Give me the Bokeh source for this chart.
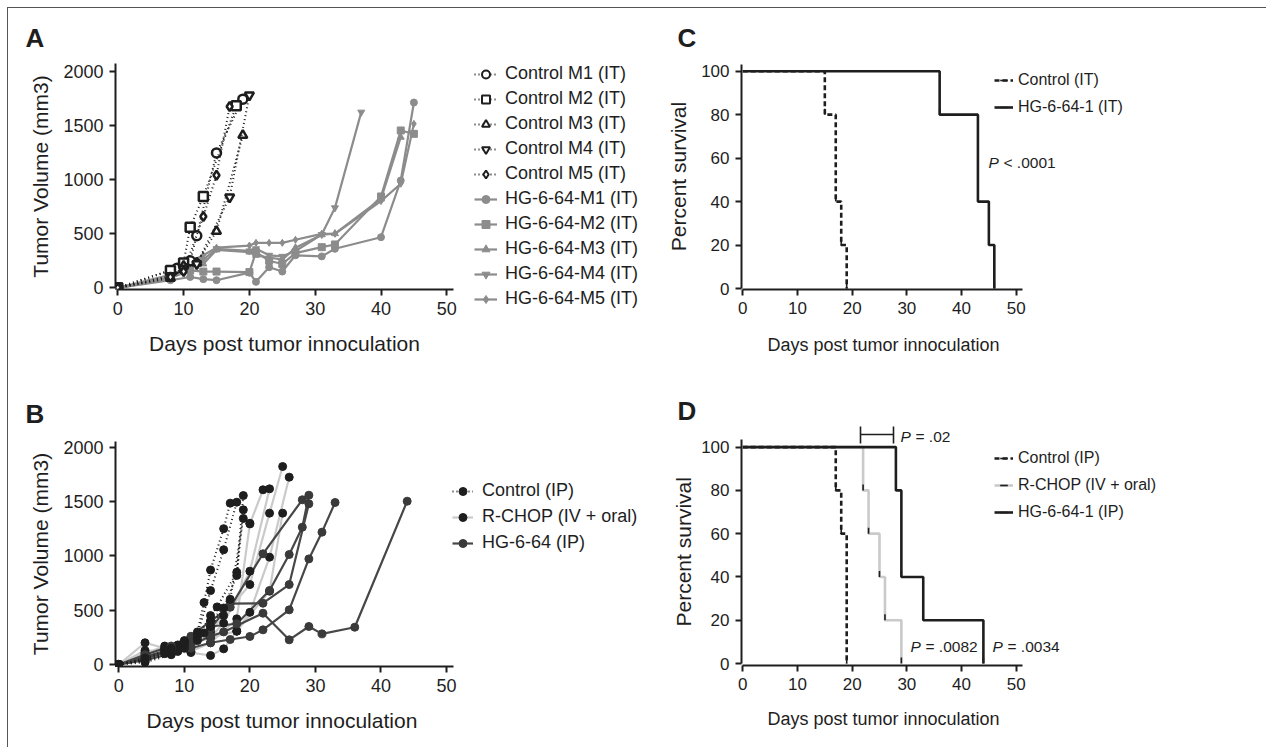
import numpy as np
from bokeh.plotting import figure
from bokeh.models import Legend, LegendItem, Label, Range1d, FixedTicker, Arrow, Title, Spacer
from bokeh.layouts import column, row
from bokeh.embed import file_html
from bokeh.resources import INLINE

# ------------------------------------------------------------------ data
DAY_TICKS = [0, 10, 20, 30, 40, 50]
VOL_TICKS = [0, 500, 1000, 1500, 2000]
PCT_TICKS = [0, 20, 40, 60, 80, 100]
X_LABEL = "Days post tumor innoculation"
VOL_LABEL = "Tumor Volume (mm3)"
PCT_LABEL = "Percent survival"

# Panel A - control mice (IT)
A_CTRL_NAMES = ["Control M1 (IT)", "Control M2 (IT)", "Control M3 (IT)", "Control M4 (IT)", "Control M5 (IT)"]
A_CTRL_DAYS = [[0, 9, 11, 12, 15, 19],
               [0, 8, 10, 11, 13, 18],
               [0, 8, 10, 12, 15, 19],
               [0, 8, 10, 12, 17, 20],
               [0, 8, 10, 13, 15, 17]]
A_CTRL_VOLS = [[0, 180, 250, 480, 1245, 1741],
               [0, 160, 230, 559, 843, 1680],
               [0, 90, 200, 230, 522, 1408],
               [0, 110, 180, 220, 836, 1778],
               [0, 100, 150, 658, 1039, 1673]]
# Panel A - HG-6-64 treated mice (IT)
A_HG_NAMES = ["HG-6-64-M1 (IT)", "HG-6-64-M2 (IT)", "HG-6-64-M3 (IT)", "HG-6-64-M4 (IT)", "HG-6-64-M5 (IT)"]
A_HG_DAYS = [[0, 8, 11, 13, 15, 20, 21, 23, 25, 27, 31, 33, 40, 43, 45],
             [0, 8, 11, 13, 15, 20, 21, 23, 25, 27, 31, 33, 40, 43, 45],
             [0, 8, 11, 13, 15, 20, 21, 23, 25, 27, 31, 33, 40, 43],
             [0, 8, 11, 13, 15, 20, 21, 23, 25, 27, 31, 33, 37],
             [0, 8, 11, 13, 15, 20, 21, 23, 25, 27, 31, 33, 40, 43, 45]]
A_HG_VOLS = [[0, 70, 100, 80, 70, 140, 55, 190, 150, 300, 290, 360, 467, 990, 1710],
             [0, 90, 160, 150, 150, 145, 330, 250, 220, 320, 375, 400, 843, 1452, 1421],
             [0, 120, 200, 220, 350, 330, 300, 280, 260, 370, 490, 500, 820, 1390],
             [0, 100, 230, 260, 360, 340, 360, 300, 290, 340, 492, 738, 1621],
             [0, 80, 240, 300, 370, 390, 415, 415, 415, 443, 498, 498, 800, 960, 1513]]
A_MARKERS = ["circle", "square", "triangle", "inverted_triangle", "diamond"]

# Panel B
B_NAMES = ["Control (IP)", "R-CHOP (IV + oral)", "HG-6-64 (IP)"]
B_CTRL_DAYS = [[0, 4, 8, 10, 12, 13, 14, 16, 17],
               [0, 4, 8, 10, 12, 14, 16, 18],
               [0, 4, 8, 10, 12, 14, 15, 18, 19],
               [0, 4, 8, 10, 12, 14, 16, 18, 19],
               [0, 4, 8, 10, 13, 14, 17, 19, 20]]
B_CTRL_VOLS = [[0, 40, 120, 200, 300, 570, 870, 1250, 1485],
               [0, 60, 150, 220, 280, 680, 1056, 1494],
               [0, 30, 100, 180, 250, 450, 530, 850, 1555],
               [0, 20, 90, 150, 220, 400, 520, 820, 1424],
               [0, 50, 130, 210, 290, 350, 600, 1344, 1300]]
B_RCHOP_DAYS = [[0, 4, 7, 9, 11, 14, 18, 20, 22],
                [0, 4, 7, 9, 11, 14, 16, 20, 23],
                [0, 4, 7, 9, 11, 14, 16, 20, 23, 25],
                [0, 4, 7, 9, 11, 14, 16, 18, 20, 23, 26],
                [0, 4, 7, 9, 11, 14, 18, 23, 25]]
B_RCHOP_VOLS = [[0, 200, 150, 130, 120, 200, 420, 1294, 1608],
                [0, 130, 120, 150, 200, 250, 380, 859, 1617],
                [0, 100, 170, 180, 230, 300, 450, 736, 1393, 1822],
                [0, 80, 140, 120, 110, 83, 144, 307, 480, 988, 1724],
                [0, 110, 100, 150, 180, 250, 307, 675, 1393]]
B_HG_DAYS = [[0, 4, 8, 11, 14, 16, 22, 26, 29, 31, 36, 44],
             [0, 4, 8, 11, 14, 17, 20, 22, 26, 29, 31, 33],
             [0, 4, 8, 11, 14, 17, 22, 26, 29],
             [0, 4, 8, 11, 14, 18, 23, 26, 28, 29],
             [0, 4, 8, 11, 14, 17, 22, 28]]
B_HG_VOLS = [[0, 60, 120, 180, 260, 300, 472, 227, 350, 282, 343, 1503],
             [0, 40, 100, 150, 200, 230, 258, 319, 503, 972, 1218, 1491],
             [0, 70, 140, 250, 330, 560, 564, 736, 1479],
             [0, 50, 150, 220, 350, 375, 681, 1012, 1264, 1558],
             [0, 90, 170, 260, 400, 527, 1019, 1516]]

# Panel C - Kaplan-Meier (event day, percent surviving after it)
C_NAMES = ["Control (IT)", "HG-6-64-1 (IT)"]
C_CTRL_T = [0, 15, 17, 18, 19]
C_CTRL_S = [100, 80, 40, 20, 0]
C_HG_T = [0, 36, 43, 45, 46]
C_HG_S = [100, 80, 40, 20, 0]
C_PTEXT = "< .0001"

# Panel D
D_NAMES = ["Control (IP)", "R-CHOP (IV + oral)", "HG-6-64-1 (IP)"]
D_CTRL_T = [0, 17, 18, 19]
D_CTRL_S = [100, 80, 60, 0]
D_RCHOP_T = [0, 22, 23, 25, 26, 29]
D_RCHOP_S = [100, 80, 60, 40, 20, 0]
D_HG_T = [0, 28, 29, 33, 44]
D_HG_S = [100, 80, 40, 20, 0]
D_PTEXTS = ["= .02", "= .0082", "= .0034"]

# ------------------------------------------------------------------ style
SANS = "Liberation Sans"
INK = "#1e1e1e"
GREY_A = "#8c8c8c"
LIGHT = "#cacaca"
DARK = "#474747"


def make_panel(fig_x, fig_y, fig_w, fig_h, fl, ft, fw, fh, x0px, xs, y0px, ys, yticks, tick_size):
    xr = Range1d((fl - x0px) / xs, (fl + fw - x0px) / xs)
    yr = Range1d((y0px - (ft + fh)) / ys, (y0px - ft) / ys)
    p = figure(width=fig_w, height=fig_h, x_range=xr, y_range=yr,
               min_border_left=int(fl - fig_x), min_border_right=int(fig_x + fig_w - fl - fw),
               min_border_top=int(ft - fig_y), min_border_bottom=int(fig_y + fig_h - ft - fh),
               output_backend="svg", toolbar_location=None)
    p.frame_align = False
    p.grid.visible = False
    p.outline_line_color = None
    for ax in (p.xaxis[0], p.yaxis[0]):
        ax.axis_line_width = 2
        ax.axis_line_color = INK
        ax.major_tick_line_width = 2
        ax.major_tick_line_color = INK
        ax.major_tick_out = 6
        ax.major_tick_in = 0
        ax.minor_tick_line_color = None
        ax.major_label_text_font = SANS
        ax.major_label_text_font_size = tick_size
        ax.major_label_text_color = INK
        ax.major_label_standoff = 6
        ax.axis_label_text_font_style = "normal"
        ax.axis_label_text_font = SANS
        ax.axis_label_text_color = INK
        ax.axis_label_standoff = 8
    p.xaxis.ticker = FixedTicker(ticks=DAY_TICKS)
    p.yaxis.ticker = FixedTicker(ticks=yticks)
    g = dict(x0px=x0px, xs=xs, y0px=y0px, ys=ys, fl=fl, fb=ft + fh)
    return p, g


def dx(g, px):
    return (px - g["x0px"]) / g["xs"]


def dy(g, py):
    return (g["y0px"] - py) / g["ys"]


def panel_letter(p, letter, offset, standoff):
    p.add_layout(Title(text=letter, align="left", offset=offset, standoff=standoff,
                       vertical_align="bottom", text_font=SANS, text_font_size="26px",
                       text_font_style="bold", text_color=INK), "above")


def x_title(p, offset, standoff, size):
    p.add_layout(Title(text=X_LABEL, align="left", offset=offset, standoff=standoff,
                       vertical_align="top", text_font=SANS, text_font_size=size,
                       text_font_style="normal", text_color=INK), "below")


def p_value(p, g, px, py, rest):
    x, y = dx(g, px), dy(g, py)
    common = dict(text_font=SANS, text_font_size="15.5px", text_color=INK, text_baseline="middle")
    p.add_layout(Label(x=x, y=y, text="P", text_font_style="italic", **common))
    p.add_layout(Label(x=x, y=y, x_offset=15, text=rest, **common))


def make_legend(items, loc, size, gw, gh, standoff, spacing):
    return Legend(items=items, location=loc,
                  label_text_font=SANS, label_text_font_size=size, label_text_color=INK,
                  glyph_width=gw, glyph_height=gh, label_height=gh, label_standoff=standoff,
                  spacing=spacing, padding=0, margin=0, border_line_color=None,
                  background_fill_alpha=0)


NAN = [np.nan]

# ------------------------------------------------------------------ panel A
pA, gA = make_panel(8, 8, 458, 372, 115, 63, 338, 226, 117.3, 6.58, 287.3, 0.10835, VOL_TICKS, "18px")
pA.xaxis.bounds = (0, 51.1)
pA.yaxis.bounds = (0, 2070)
pA.xaxis.axis_label = X_LABEL
pA.yaxis.axis_label = VOL_LABEL
pA.xaxis.axis_label_text_font_size = "21px"
pA.yaxis.axis_label_text_font_size = "21px"
pA.xaxis.axis_label_standoff = 14
for d, v, m in zip(A_HG_DAYS, A_HG_VOLS, A_MARKERS):
    pA.line(d, v, line_color=GREY_A, line_width=2.2)
    pA.scatter(d, v, marker=m, size=7, fill_color=GREY_A, line_color=GREY_A)
for d, v, m in zip(A_CTRL_DAYS, A_CTRL_VOLS, A_MARKERS):
    pA.line(d, v, line_color=INK, line_width=2, line_dash="1 3")
    pA.scatter(d, v, marker=m, size=9, fill_color="white", line_color=INK, line_width=2.5)
panel_letter(pA, "A", -90, 21)

# legend of panel A lives in its own small figure (it hangs below the x axis)
pAL = figure(width=174, height=372, x_range=Range1d(0, 1), y_range=Range1d(0, 1),
             x_axis_type=None, y_axis_type=None, min_border_left=8, min_border_top=55,
             min_border_right=0, min_border_bottom=0, output_backend="svg",
             toolbar_location=None)
pAL.frame_align = False
pAL.outline_line_color = None
itemsA = []
for name, m in zip(A_CTRL_NAMES, A_MARKERS):
    l = pAL.line(NAN, NAN, line_color=INK, line_width=2, line_dash="1 3")
    s = pAL.scatter(NAN, NAN, marker=m, size=7, fill_color="white", line_color=INK, line_width=2)
    itemsA.append(LegendItem(label=name, renderers=[l, s]))
for name, m in zip(A_HG_NAMES, A_MARKERS):
    l = pAL.line(NAN, NAN, line_color=GREY_A, line_width=2.2)
    s = pAL.scatter(NAN, NAN, marker=m, size=6, fill_color=GREY_A, line_color=GREY_A)
    itemsA.append(LegendItem(label=name, renderers=[l, s]))
pAL.add_layout(make_legend(itemsA, "top_left", "18px", 23, 20, 8, 4))

# ------------------------------------------------------------------ panel B
pB, gB = make_panel(8, 380, 632, 367, 115, 441, 525, 225, 118.3, 6.554, 664, 0.10865, VOL_TICKS, "18px")
pB.xaxis.bounds = (0, 51.1)
pB.yaxis.bounds = (0, 2052)
pB.yaxis.axis_label = VOL_LABEL
pB.yaxis.axis_label_text_font_size = "21px"
x_title(pB, 31, 28, "21px")
for d, v in zip(B_RCHOP_DAYS, B_RCHOP_VOLS):
    pB.line(d, v, line_color=LIGHT, line_width=2.2)
for d, v in zip(B_HG_DAYS, B_HG_VOLS):
    pB.line(d, v, line_color=DARK, line_width=2.2)
for d, v in zip(B_CTRL_DAYS, B_CTRL_VOLS):
    pB.line(d, v, line_color=INK, line_width=2, line_dash="1 3")
for d, v in zip(B_RCHOP_DAYS, B_RCHOP_VOLS):
    pB.scatter(d, v, size=8, fill_color=INK, line_color=INK)
for d, v in zip(B_HG_DAYS, B_HG_VOLS):
    pB.scatter(d, v, size=8, fill_color="#3a3a3a", line_color="#3a3a3a")
for d, v in zip(B_CTRL_DAYS, B_CTRL_VOLS):
    pB.scatter(d, v, size=8, fill_color=INK, line_color=INK)
itemsB = []
for name, lc, mc, dash in zip(B_NAMES, [INK, LIGHT, DARK], [INK, INK, "#3a3a3a"], ["1 3", None, None]):
    kw = dict(line_color=lc, line_width=2.2)
    if dash:
        kw["line_dash"] = dash
    l = pB.line(NAN, NAN, **kw)
    s = pB.scatter(NAN, NAN, size=6, fill_color=mc, line_color=mc)
    itemsB.append(LegendItem(label=name, renderers=[l, s]))
pB.add_layout(make_legend(itemsB, (452 - 115, 666 - 553), "18px", 21, 20, 9, 5))
panel_letter(pB, "B", -90, 25)


# ------------------------------------------------------------------ KM helper
def km(p, g, t, s, color, dash):
    kw = dict(line_color=color, line_width=2.6)
    if dash:
        kw["line_dash"] = dash
    l = p.step(t, s, mode="after", **kw)
    ty = [v + 3.0 / g["ys"] for v in s[1:]]
    m = p.scatter(t[1:], ty, marker="dash", angle=np.pi / 2, size=6, line_color=INK, line_width=1.6)
    return [l, m]


# ------------------------------------------------------------------ panel C
pC, gC = make_panel(640, 8, 626, 372, 741, 63, 525, 226, 742.3, 5.468, 288, 2.173, PCT_TICKS, "17px")
pC.xaxis.bounds = (0, 51.1)
pC.yaxis.bounds = (0, 103.3)
pC.yaxis.axis_label = PCT_LABEL
pC.yaxis.axis_label_text_font_size = "21px"
x_title(pC, 26, 37, "18px")
r_hg = km(pC, gC, C_HG_T, C_HG_S, INK, None)
r_ct = km(pC, gC, C_CTRL_T, C_CTRL_S, INK, "5 3")
itemsC = [LegendItem(label=C_NAMES[0], renderers=r_ct),
          LegendItem(label=C_NAMES[1], renderers=r_hg)]
pC.add_layout(make_legend(itemsC, (994 - 741, 289 - 117), "16px", 19, 20, 5, 7))
p_value(pC, gC, 988, 162, C_PTEXT)
panel_letter(pC, "C", -64, 21)

# ------------------------------------------------------------------ panel D
pD, gD = make_panel(640, 380, 626, 367, 741, 425, 525, 241, 742.3, 5.468, 664, 2.173, PCT_TICKS, "17px")
pD.xaxis.bounds = (0, 51.1)
pD.yaxis.bounds = (0, 103.5)
x_title(pD, 26, 33, "18px")
pD.add_layout(Title(text=PCT_LABEL, align="left", offset=39, standoff=7, vertical_align="bottom",
                    text_font=SANS, text_font_size="21px", text_font_style="normal",
                    text_color=INK), "left")
r_rc = km(pD, gD, D_RCHOP_T, D_RCHOP_S, LIGHT, None)
r_hg = km(pD, gD, D_HG_T, D_HG_S, INK, None)
r_ct = km(pD, gD, D_CTRL_T, D_CTRL_S, INK, "5 3")
itemsD = [LegendItem(label=D_NAMES[0], renderers=r_ct),
          LegendItem(label=D_NAMES[1], renderers=r_rc),
          LegendItem(label=D_NAMES[2], renderers=r_hg)]
pD.add_layout(make_legend(itemsD, (994 - 741, 666 - 523), "16px", 19, 20, 5, 7))
# comparison bracket for P = .02
bx0, bx1 = dx(gD, 860), dx(gD, 893)
by, byt, byb = dy(gD, 434), dy(gD, 426), dy(gD, 443)
for (xa, ya, xb, yb) in [(bx0, by, bx1, by), (bx0, byt, bx0, byb), (bx1, byt, bx1, byb)]:
    pD.add_layout(Arrow(x_start=xa, y_start=ya, x_end=xb, y_end=yb, end=None, start=None,
                        line_color=INK, line_width=1.6))
p_value(pD, gD, 900, 436, D_PTEXTS[0])
p_value(pD, gD, 910, 647, D_PTEXTS[1])
p_value(pD, gD, 992, 647, D_PTEXTS[2])
panel_letter(pD, "D", -64, 0)

inner = column(row(pA, pAL, pC), row(pB, pD),
               styles={"border-top": "1px solid #555", "border-left": "1px solid #555"})
layout = column(Spacer(height=7), row(Spacer(width=7), inner))

open("out.html", "w").write(file_html(layout, INLINE))
